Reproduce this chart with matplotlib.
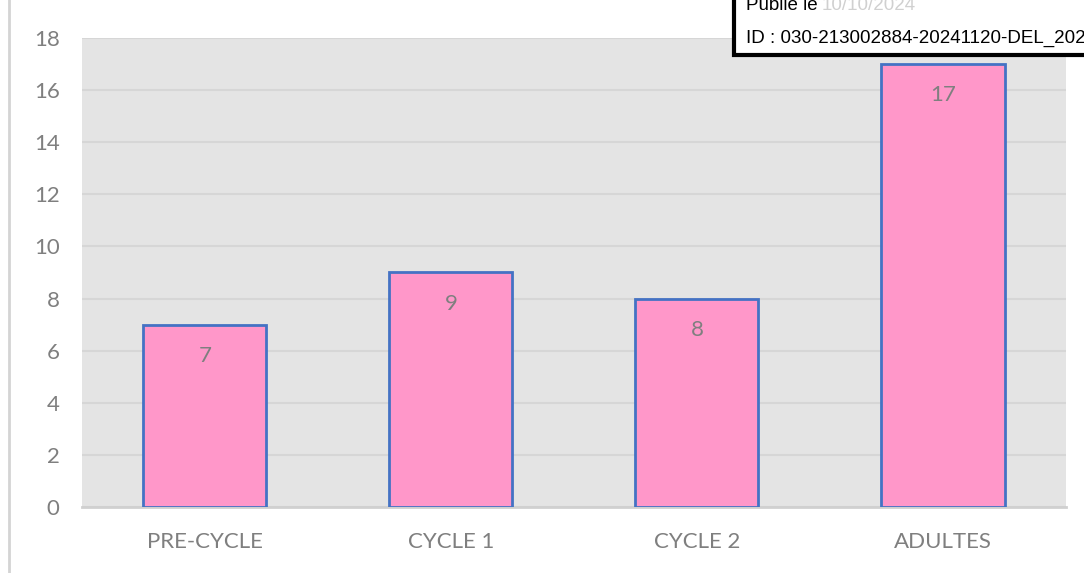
import matplotlib.pyplot as plt
from matplotlib.patches import Rectangle
from matplotlib.lines import Line2D

categories = ['PRE-CYCLE', 'CYCLE 1', 'CYCLE 2', 'ADULTES']
values = [7, 9, 8, 17]
yticks = [0, 2, 4, 6, 8, 10, 12, 14, 16, 18]

fig = plt.figure(figsize=(10.84, 5.73), dpi=100)
ax = fig.add_axes([0.0756, 0.1152, 0.9078, 0.8185])
ax.set_facecolor('#e4e4e4')

x = range(len(categories))
bars = ax.bar(x, values, width=0.5, color='#ff97c9', edgecolor='#4472c4', linewidth=2, zorder=3)

for b, v in zip(bars, values):
    ax.text(b.get_x() + b.get_width() / 2, v - 1.2, str(v), ha='center', va='center',
            fontsize=16, color='#7f7f7f', family='Lato', zorder=4)

ax.set_xlim(-0.5, len(categories) - 0.5)
ax.set_ylim(0, 18)
ax.set_yticks(yticks)
ax.set_xticks(list(x))
ax.set_xticklabels(categories)
ax.yaxis.grid(True, color='#d6d6d6', linewidth=1.5, zorder=0)
ax.set_axisbelow(True)
for s in ['top', 'right', 'left']:
    ax.spines[s].set_visible(False)
ax.spines['bottom'].set_color('#d0d0d0')
ax.spines['bottom'].set_linewidth(2)
ax.tick_params(length=0, labelsize=16, labelcolor='#7f7f7f')
for lab in ax.get_xticklabels() + ax.get_yticklabels():
    lab.set_family('Lato')
ax.tick_params(axis='x', pad=18)
ax.tick_params(axis='y', pad=16)

# thin gray border on the left
fig.add_artist(Line2D([9 / 1084, 9 / 1084], [0, 1], transform=fig.transFigure,
                      color='#d4d4d4', linewidth=2))

# stamp box at top right
fig.add_artist(Rectangle((734 / 1084, (573 - 55) / 573), 0.4, 0.2, transform=fig.transFigure,
                         facecolor='white', edgecolor='black', linewidth=3, zorder=10))
fig.text(746 / 1084, 1 - 5 / 573, 'Publié le ', ha='left', va='center', fontsize=13.5,
         family='Liberation Sans', color='black', zorder=11)
fig.text(822 / 1084, 1 - 5 / 573, '10/10/2024', ha='left', va='center', fontsize=13.5,
         family='Liberation Sans', color='#d0d0d0', zorder=11)
fig.text(746 / 1084, 1 - 38 / 573, 'ID : 030-213002884-20241120-DEL_202', ha='left', va='center',
         fontsize=13.5, family='Liberation Sans', color='black', zorder=11)

fig.savefig('out.png', dpi=100)
